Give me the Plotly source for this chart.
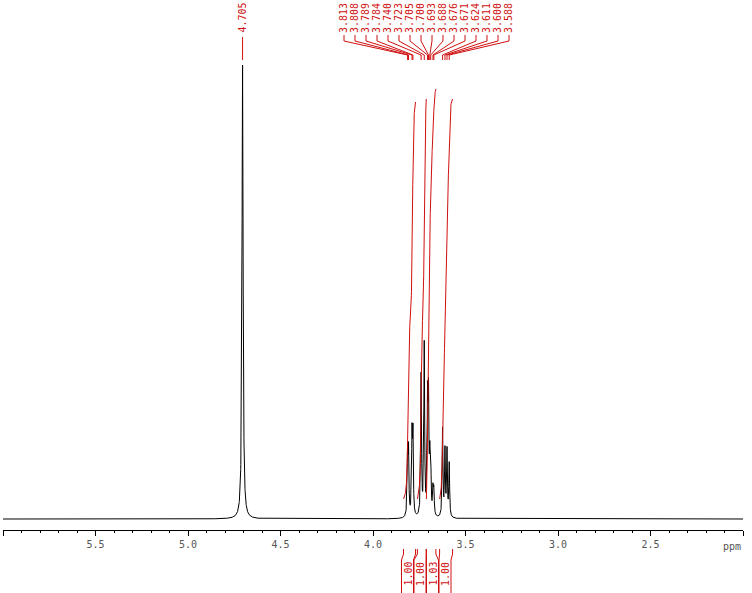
import numpy as np
import plotly.graph_objects as go

# ---------------- data ----------------
peak_ppm = [4.705, 3.813, 3.808, 3.789, 3.784, 3.740, 3.723, 3.705, 3.700,
            3.693, 3.688, 3.676, 3.671, 3.624, 3.611, 3.600, 3.588]
peak_height = [100.0, 13.7, 13.7, 17.2, 17.2, 31.1, 37.7, 24.0, 24.0,
               10.8, 10.8, 5.5, 5.5, 19.4, 14.5, 14.5, 11.7]
peak_hwhm = [0.0035] + [0.0025] * 16

label_text = ["4.705"]
multiplet_labels = ["3.813", "3.808", "3.789", "3.784", "3.740", "3.723",
                    "3.705", "3.700", "3.693", "3.688", "3.676", "3.671",
                    "3.624", "3.611", "3.600", "3.588"]

integral_left = [3.835, 3.760, 3.712, 3.640]
integral_right = [3.770, 3.712, 3.660, 3.570]
integral_values = ["1.00", "1.00", "1.03", "1.00"]
integral_top_px = [102, 99, 89, 99]

tick_vals = [6.0, 5.5, 5.0, 4.5, 4.0, 3.5, 3.0, 2.5, 2.0]
tick_text = ["", "5.5", "5.0", "4.5", "4.0", "3.5", "3.0", "2.5", ""]

# ---------------- geometry helpers ----------------
W, H = 752, 593
ML, MR, MT, MB = 3, 9, 0, 63
PLOT_H = H - MT - MB          # 530
PX_PER_PPM = (W - ML - MR) / 4.0
BASE_PX = 519                 # baseline pixel row
PX_PER_UNIT = (BASE_PX - 65) / 100.0

def px2ppm(px):
    return 6.0 - (px - ML) / PX_PER_PPM

def ppm2px(p):
    return ML + (6.0 - p) * PX_PER_PPM

def py2paper(py):
    return (PLOT_H + MT - py) / PLOT_H

def py2data(py):
    return (BASE_PX - py) / PX_PER_UNIT

RED = "#d01010"
MONO = "DejaVu Sans Mono, Liberation Mono, monospace"

# ---------------- spectrum ----------------
x = np.arange(2.0, 6.0005, 0.0005)
y = np.zeros_like(x)
for p, h, g in zip(peak_ppm, peak_height, peak_hwhm):
    y += h / (1.0 + ((x - p) / g) ** 2)

fig = go.Figure()
fig.add_trace(go.Scatter(x=x, y=y, mode="lines",
                         line=dict(color="black", width=1),
                         hoverinfo="skip", showlegend=False))

# ---------------- integrals ----------------
for left, right, top in zip(integral_left, integral_right, integral_top_px):
    m = (x <= left) & (x >= right)
    xs = x[m][::-1]
    ys = y[m][::-1]
    c = np.cumsum(ys)
    c = (c - c[0]) / (c[-1] - c[0])
    bottom = 499
    ipx = bottom - (bottom - top) * c
    fig.add_trace(go.Scatter(x=xs, y=py2data(ipx), mode="lines",
                             line=dict(color=RED, width=1),
                             hoverinfo="skip", showlegend=False))

shapes = []
annotations = []

# ---------------- peak labels ----------------
big_x = peak_ppm[0]
annotations.append(dict(x=big_x, y=py2paper(18), xref="x", yref="paper",
                        text=label_text[0], textangle=-90, showarrow=False,
                        font=dict(family=MONO, size=10, color=RED),
                        xanchor="center", yanchor="middle"))
shapes.append(dict(type="line", xref="x", yref="paper", x0=big_x, x1=big_x,
                   y0=py2paper(37), y1=py2paper(60),
                   line=dict(color=RED, width=1)))

for i, (lab, p) in enumerate(zip(multiplet_labels, peak_ppm[1:])):
    lx = px2ppm(344 + 11 * i)
    annotations.append(dict(x=lx, y=py2paper(18), xref="x", yref="paper",
                            text=lab, textangle=-90, showarrow=False,
                            font=dict(family=MONO, size=10, color=RED),
                            xanchor="center", yanchor="middle"))
    path = "M {a},{b} L {a},{c} L {d},{e} L {d},{f}".format(
        a=lx, b=py2paper(35), c=py2paper(41), d=p, e=py2paper(55), f=py2paper(60))
    shapes.append(dict(type="path", xref="x", yref="paper", path=path,
                       line=dict(color=RED, width=1)))

# ---------------- integral labels ----------------
label_centers_px = [407.5, 420, 432.5, 445]
for left, right, val, cpx in zip(integral_left, integral_right, integral_values, label_centers_px):
    cx = px2ppm(cpx)
    annotations.append(dict(x=cx, y=py2paper(574), xref="x", yref="paper",
                            text=val, textangle=-90, showarrow=False,
                            font=dict(family=MONO, size=10, color=RED),
                            xanchor="center", yanchor="middle"))
    for edge, side in ((left, -6), (right, 6)):
        lx = px2ppm(cpx + side)
        path = "M {a},{b} L {a},{c} L {d},{e} L {d},{f}".format(
            a=edge, b=py2paper(549), c=py2paper(554), d=lx, e=py2paper(560), f=py2paper(593))
        shapes.append(dict(type="path", xref="x", yref="paper", path=path,
                           line=dict(color=RED, width=1)))

annotations.append(dict(x=2.0, y=py2paper(546), xref="x", yref="paper",
                        text="ppm", showarrow=False, xanchor="right", yanchor="middle",
                        font=dict(family=MONO, size=10, color="#555")))

fig.update_layout(
    width=W, height=H,
    margin=dict(l=ML, r=MR, t=MT, b=MB, pad=0),
    paper_bgcolor="white", plot_bgcolor="white",
    showlegend=False,
    shapes=shapes, annotations=annotations,
    xaxis=dict(range=[6.0, 2.0], showgrid=False, zeroline=False,
               showline=True, linecolor="black", linewidth=1,
               ticks="outside", ticklen=5, tickcolor="black", tickwidth=1,
               tickmode="array", tickvals=tick_vals, ticktext=tick_text,
               tickfont=dict(family=MONO, size=10, color="#555"),
               minor=dict(tickmode="linear", tick0=2.0, dtick=0.1,
                          ticks="outside", ticklen=2, tickcolor="black")),
    yaxis=dict(visible=False, range=[py2data(PLOT_H + MT), py2data(MT)],
               showgrid=False, zeroline=False),
)

fig.write_html("out.html",
               config={"displayModeBar": False},
               post_script="document.body.style.margin='0px';document.body.style.overflow='hidden';")
